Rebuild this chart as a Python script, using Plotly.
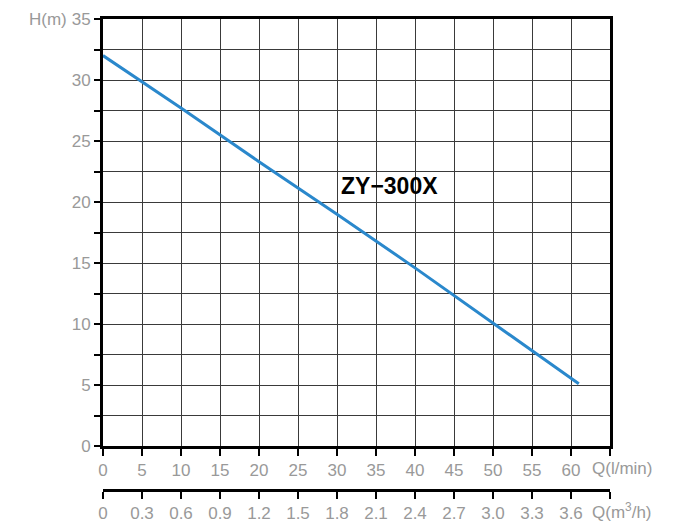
import plotly.graph_objects as go

# Data
flow_lpm = [0, 10, 20, 30, 40, 50, 61]
head_m = [32.0, 27.7, 23.3, 19.0, 14.6, 10.1, 5.1]

x_ticks = [0, 5, 10, 15, 20, 25, 30, 35, 40, 45, 50, 55, 60, 65]
x_labels = ["0", "5", "10", "15", "20", "25", "30", "35", "40", "45", "50", "55", "60", " "]
x2_ticks = [0, 0.3, 0.6, 0.9, 1.2, 1.5, 1.8, 2.1, 2.4, 2.7, 3.0, 3.3, 3.6, 3.9]
x2_labels = ["0", "0.3", "0.6", "0.9", "1.2", "1.5", "1.8", "2.1", "2.4", "2.7", "3.0", "3.3", "3.6", " "]
y_ticks = [0, 2.5, 5, 7.5, 10, 12.5, 15, 17.5, 20, 22.5, 25, 27.5, 30, 32.5, 35]
y_labels = ["0", " ", "5", " ", "10", " ", "15", " ", "20", " ", "25", " ", "30", " ", "35"]

model = "ZY\u2212300X"

W, H = 684, 524
ml, mr, mt, mb = 103, 74, 19, 34
plot_h = H - mt - mb
y_bottom_px = 446
ydom0 = (H - mb - y_bottom_px) / plot_h

font_fam = "Liberation Sans, Arial, sans-serif"
gray = "#999999"
fs = 17

fig = go.Figure()
fig.add_trace(go.Scatter(x=flow_lpm, y=head_m, mode="lines",
                         line=dict(color="#2a88cc", width=3),
                         showlegend=False, hoverinfo="skip"))
fig.add_trace(go.Scatter(x=[0, 3.9], y=[0, 0], xaxis="x2", yaxis="y", mode="markers",
                         marker=dict(opacity=0), showlegend=False, hoverinfo="skip"))

fig.update_layout(
    width=W, height=H,
    margin=dict(l=ml, r=mr, t=mt, b=mb, autoexpand=False),
    paper_bgcolor="white", plot_bgcolor="white",
    font=dict(family=font_fam, size=fs, color=gray),
    xaxis=dict(range=[0, 65], tickvals=x_ticks, ticktext=x_labels,
               showgrid=True, gridcolor="#3a3a3a", gridwidth=1,
               showline=True, linecolor="black", linewidth=3, mirror=True,
               ticks="outside", ticklen=7, tickwidth=2, tickcolor="black",
               zeroline=False, anchor="y", automargin=False,
               tickfont=dict(color=gray, size=fs)),
    xaxis2=dict(range=[0, 3.9], tickvals=x2_ticks, ticktext=x2_labels,
                overlaying="x", anchor="free", position=0, side="bottom",
                showgrid=False, showline=True, linecolor="black", linewidth=3,
                ticks="outside", ticklen=7, tickwidth=2, tickcolor="black",
                zeroline=False, automargin=False,
                tickfont=dict(color=gray, size=fs)),
    yaxis=dict(range=[0, 35], tickvals=y_ticks, ticktext=y_labels,
               domain=[ydom0, 1],
               showgrid=True, gridcolor="#3a3a3a", gridwidth=1,
               showline=True, linecolor="black", linewidth=3, mirror=True,
               ticks="outside", ticklen=6, tickwidth=2, tickcolor="black",
               zeroline=False, automargin=False,
               tickfont=dict(color=gray, size=fs)),
)

fig.add_annotation(x=0, y=35, xref="x", yref="y", text="H(m)", showarrow=False,
                   xanchor="right", yanchor="middle", xshift=-34,
                   font=dict(color=gray, size=fs, family=font_fam))
fig.add_annotation(x=65, y=0, xref="x", yref="y", text="Q(l/min)", showarrow=False,
                   xanchor="left", yanchor="middle", xshift=-20, yshift=-22,
                   font=dict(color=gray, size=fs, family=font_fam))
fig.add_annotation(x=3.9, y=0, xref="x2", yref="paper", text="Q(m<sup>3</sup>/h)", showarrow=False,
                   xanchor="left", yanchor="middle", xshift=-20, yshift=-21,
                   font=dict(color=gray, size=fs, family=font_fam))
fig.add_annotation(x=30.3, y=21.3, xref="x", yref="y", text="<b>" + model + "</b>", showarrow=False,
                   xanchor="left", yanchor="middle",
                   font=dict(color="black", size=23, family=font_fam))

fig.write_html("out.html")
